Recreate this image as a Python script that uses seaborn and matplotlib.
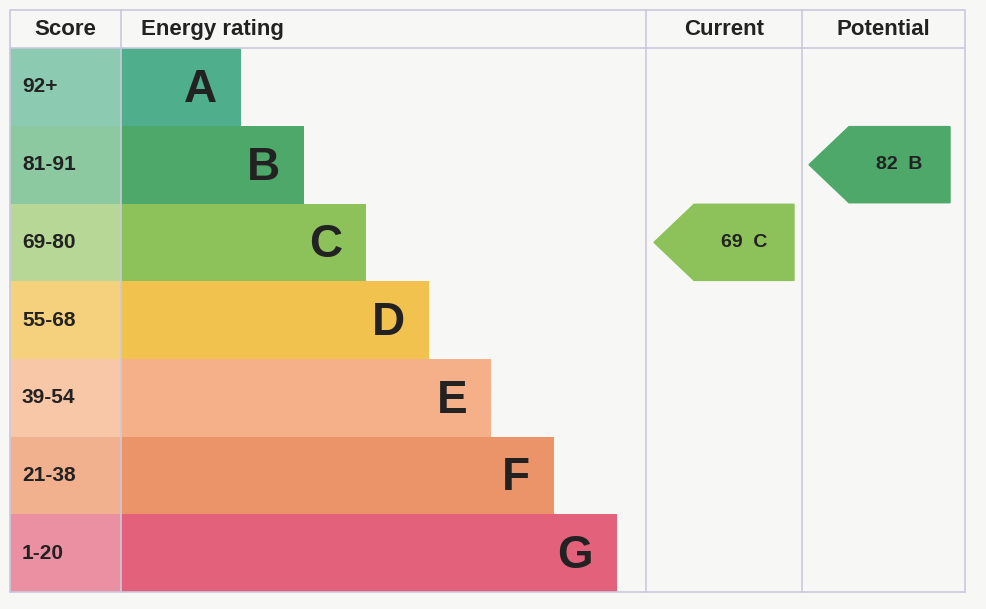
import matplotlib
matplotlib.use("Agg")
import matplotlib.pyplot as plt
from matplotlib.patches import Polygon
import seaborn as sns
import pandas as pd

bands = ["A", "B", "C", "D", "E", "F", "G"]
score_ranges = ["92+", "81-91", "69-80", "55-68", "39-54", "21-38", "1-20"]
bar_lengths = [120, 183, 245, 308, 370, 433, 496]
bar_colors = ["#4fae8c", "#4da86a", "#8dc15a", "#f2c24e", "#f5b08a", "#ec9469", "#e3617b"]
cell_colors = ["#8ccab2", "#8cc9a0", "#b6d796", "#f5d17e", "#f7c7a8", "#f1b18f", "#eb8fa2"]
current_score, current_band = 69, "C"
potential_score, potential_band = 82, "B"

sns.set_theme(style="white")
plt.rcParams["font.family"] = ["Liberation Sans", "DejaVu Sans"]

fig = plt.figure(figsize=(9.86, 6.09), dpi=100, facecolor="#f7f7f6")
ax = fig.add_axes([0, 0, 1, 1])
ax.set_facecolor("#fbfbfa")

df = pd.DataFrame({"band": bands, "length": bar_lengths})
sns.barplot(data=df, x="length", y="band", hue="band", palette=bar_colors,
            orient="h", width=1.0, legend=False, ax=ax, saturation=1, linewidth=0)
ax.barh(range(len(bands)), 111, left=-111, height=1.0, color=cell_colors, linewidth=0)

ax.set_xlim(-121, 865)
ax.set_ylim(6.72, -1.12)
ax.axis("off")

line = "#c9c9dd"
top, bot = -0.99, 6.5
for x in [-111, 0, 525, 681, 844]:
    ax.plot([x, x], [top, bot], color=line, lw=1.2)
ax.plot([-111, 844], [top, top], color=line, lw=1.2)
ax.plot([-111, 844], [-0.5, -0.5], color=line, lw=1.2)
ax.plot([-111, 844], [bot, bot], color=line, lw=1.2)

hy = -0.745
hkw = dict(va="center", fontsize=16, fontweight="bold", color="#222")
ax.text(-56, hy, "Score", ha="center", **hkw)
ax.text(20, hy, "Energy rating", ha="left", **hkw)
ax.text(603, hy, "Current", ha="center", **hkw)
ax.text(762, hy, "Potential", ha="center", **hkw)

for i, (b, s, L) in enumerate(zip(bands, score_ranges, bar_lengths)):
    ax.text(-99, i, s, ha="left", va="center", fontsize=15, fontweight="bold", color="#222")
    ax.text(L - 24, i + 0.04, b, ha="right", va="center", fontsize=33, fontweight="bold", color="#222")


def arrow(x_tip, x_right, row, color, label):
    h = 0.49
    pts = [(x_tip, row), (x_tip + 40, row - h), (x_right, row - h),
           (x_right, row + h), (x_tip + 40, row + h)]
    ax.add_patch(Polygon(pts, closed=True, color=color, zorder=3))
    ax.text((x_tip + 40 + x_right) / 2, row, label, ha="center", va="center",
            fontsize=14, fontweight="bold", color="#222", zorder=4)


ci = bands.index(current_band)
pi = bands.index(potential_band)
arrow(533, 673, ci, bar_colors[ci], f"{current_score}  {current_band}")
arrow(688, 829, pi, bar_colors[pi], f"{potential_score}  {potential_band}")

fig.savefig("out.png", dpi=100, facecolor=fig.get_facecolor())
